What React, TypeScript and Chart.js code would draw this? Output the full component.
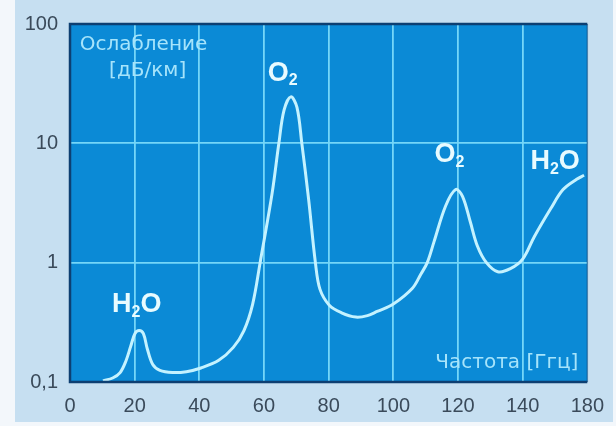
import { useEffect, useRef } from "react";
import { Chart, registerables } from "chart.js";

Chart.register(...registerables);

// Frequency axis (picture units; the last grid position is labelled "180" in the original)
const frequency = [10.2, 13.2, 15.5, 17.3, 18.8, 20.1, 21.4, 22.7, 23.9, 25.6, 27.8, 31.7, 36, 40.5, 46, 50.5, 53.8, 56.5, 58.8, 62.5, 64.6, 66.2, 68.3, 70.2, 71.7, 73.8, 75.9, 77.3, 80.2, 84, 88.4, 92, 95, 100, 105.9, 108.5, 110.5, 112.6, 116.2, 119.3, 121.4, 123.8, 126, 128.8, 132.3, 136.2, 140, 143.6, 148.7, 152.5, 156.7, 159];
// Attenuation, dB/km
const attenuation = [0.102, 0.108, 0.12, 0.15, 0.2, 0.255, 0.27, 0.254, 0.19, 0.14, 0.125, 0.12, 0.122, 0.131, 0.152, 0.195, 0.27, 0.45, 1.0, 3.8, 10, 19, 24.5, 20, 10, 3.4, 1.0, 0.6, 0.44, 0.38, 0.35, 0.36, 0.39, 0.45, 0.61, 0.8, 1.0, 1.5, 3.0, 4.1, 3.6, 2.2, 1.38, 1.0, 0.84, 0.89, 1.07, 1.65, 2.84, 4.1, 5.0, 5.4];

const xTickValues = [0, 20, 40, 60, 80, 100, 120, 140, 160];
const xTickLabels = ["0", "20", "40", "60", "80", "100", "120", "140", "180"];
const yTickValues = [0.1, 1, 10, 100];
const yTickLabels = ["0,1", "1", "10", "100"];

const axisTitleY = ["Ослабление", "[дБ/км]"];
const axisTitleX = "Частота [Ггц]";

// Molecule labels: text parts (sub = subscript), anchored in data coordinates
const moleculeLabels = [
  { parts: [{ t: "H" }, { t: "2", sub: true }, { t: "O" }], x: 13, y: 0.446 },
  { parts: [{ t: "O" }, { t: "2", sub: true }], x: 61.2, y: 38.8 },
  { parts: [{ t: "O" }, { t: "2", sub: true }], x: 112.7, y: 8.07 },
  { parts: [{ t: "H" }, { t: "2", sub: true }, { t: "O" }], x: 142.4, y: 7.06 },
];

const FONT = "'Liberation Sans', Arial, sans-serif";
const CAPTION_FONT = "'DejaVu Sans', sans-serif";

export default function App() {
  const ref = useRef<HTMLCanvasElement>(null);

  useEffect(() => {
    const canvas = ref.current;
    if (!canvas) return;

    const decor = {
      id: "decor",
      beforeDraw(chart: any) {
        const { ctx, chartArea: a, width, height } = chart;
        ctx.save();
        ctx.fillStyle = "#f3f7fb";
        ctx.fillRect(0, 0, width, height);
        ctx.fillStyle = "#c6dff1";
        ctx.fillRect(15, 0, width - 18, 422);
        ctx.fillStyle = "#0b8ad6";
        ctx.fillRect(a.left, a.top, a.right - a.left, a.bottom - a.top);
        ctx.restore();
      },
      afterDraw(chart: any) {
        const { ctx, chartArea: a, scales } = chart;
        const sx = scales.x;
        const sy = scales.y;
        ctx.save();
        // plot border
        ctx.strokeStyle = "#0d3f72";
        ctx.lineWidth = 2.5;
        ctx.beginPath();
        ctx.moveTo(a.right, a.top);
        ctx.lineTo(a.left, a.top);
        ctx.lineTo(a.left, a.bottom);
        ctx.lineTo(a.right, a.bottom);
        ctx.stroke();
        ctx.strokeStyle = "rgba(13,63,114,0.5)";
        ctx.lineWidth = 1.5;
        ctx.beginPath();
        ctx.moveTo(a.right, a.top);
        ctx.lineTo(a.right, a.bottom);
        ctx.stroke();

        // axis captions
        ctx.fillStyle = "#a6e4fb";
        ctx.font = `20px ${CAPTION_FONT}`;
        ctx.textBaseline = "middle";
        ctx.textAlign = "left";
        ctx.fillText(axisTitleY[0], sx.getPixelForValue(3), sy.getPixelForValue(67));
        ctx.fillText(axisTitleY[1], sx.getPixelForValue(12.1), sy.getPixelForValue(40.3));
        ctx.fillText(axisTitleX, sx.getPixelForValue(113), sy.getPixelForValue(0.146));

        // molecule labels
        ctx.fillStyle = "#e8fbff";
        for (const lab of moleculeLabels) {
          let px = sx.getPixelForValue(lab.x);
          const py = sy.getPixelForValue(lab.y);
          for (const p of lab.parts as any[]) {
            if (p.sub) {
              ctx.font = `bold 16px ${FONT}`;
              ctx.fillText(p.t, px, py + 8);
            } else {
              ctx.font = `bold 27px ${FONT}`;
              ctx.fillText(p.t, px, py);
            }
            px += ctx.measureText(p.t).width;
          }
        }
        ctx.restore();
      },
    };

    const gridColor = (c: any) => {
      const n = c.scale.ticks.length;
      return c.index === 0 || c.index === n - 1 ? "rgba(0,0,0,0)" : "#74d6f8";
    };

    const chart = new Chart(canvas, {
      type: "line",
      data: {
        datasets: [
          {
            data: frequency.map((f, i) => ({ x: f, y: attenuation[i] })),
            borderColor: "#c4f2ff",
            borderWidth: 3,
            pointRadius: 0,
            tension: 0.35,
            fill: false,
          },
        ],
      },
      options: {
        responsive: false,
        animation: false,
        layout: { padding: { top: 17, right: 18, left: 0, bottom: 0 } },
        plugins: { legend: { display: false }, tooltip: { enabled: false } },
        scales: {
          x: {
            type: "linear",
            min: 0,
            max: 160,
            afterBuildTicks: (s: any) => {
              s.ticks = xTickValues.map((v) => ({ value: v }));
            },
            afterFit: (s: any) => {
              s.height = 44;
            },
            ticks: {
              callback: (_v: any, i: number) => xTickLabels[i],
              font: { family: FONT, size: 20 },
              color: "#3a4a5a",
              padding: 12,
              maxRotation: 0,
              autoSkip: false,
            },
            grid: { color: gridColor, lineWidth: 1.8, drawTicks: false },
            border: { display: false },
          },
          y: {
            type: "logarithmic",
            min: 0.1,
            max: 100,
            afterBuildTicks: (s: any) => {
              s.ticks = yTickValues.map((v) => ({ value: v }));
            },
            afterFit: (s: any) => {
              s.width = 70;
            },
            ticks: {
              callback: (_v: any, i: number) => yTickLabels[i],
              font: { family: FONT, size: 20 },
              color: "#3a4a5a",
              padding: 12,
              autoSkip: false,
            },
            grid: { color: gridColor, lineWidth: 1.8, drawTicks: false },
            border: { display: false },
          },
        },
      },
      plugins: [decor],
    } as any);

    return () => chart.destroy();
  }, []);

  return (
    <div style={{ position: "fixed", left: 0, top: 0, width: 616, height: 426 }}>
      <canvas ref={ref} width={616} height={426} style={{ display: "block" }} />
    </div>
  );
}
